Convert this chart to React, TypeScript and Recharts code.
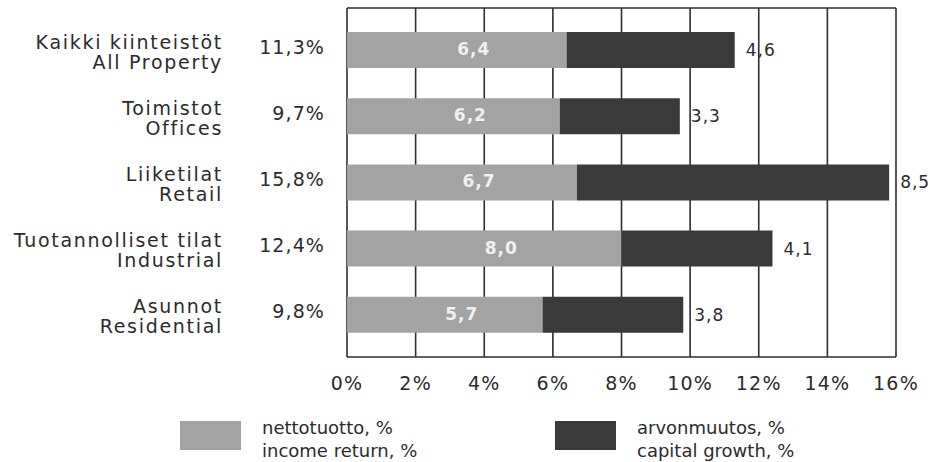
import React from "react"
import { Bar, BarChart, CartesianGrid, LabelList, XAxis, YAxis } from "recharts"

const categoriesFi = ["Kaikki kiinteistöt", "Toimistot", "Liiketilat", "Tuotannolliset tilat", "Asunnot"]
const categoriesEn = ["All Property", "Offices", "Retail", "Industrial", "Residential"]
const incomeReturn = [6.4, 6.2, 6.7, 8.0, 5.7]
const capitalGrowth = [4.6, 3.3, 8.5, 4.1, 3.8]
const totalReturn = [11.3, 9.7, 15.8, 12.4, 9.8]
const xTicks = [0, 2, 4, 6, 8, 10, 12, 14, 16]

const LIGHT = "#a3a3a3"
const DARK = "#3a3a3a"
const FONT = "'DejaVu Sans', sans-serif"

// the dark segment runs from the income value to the total return
const data = categoriesEn.map((en, i) => ({
  name: en,
  fi: categoriesFi[i],
  income: incomeReturn[i],
  growth: capitalGrowth[i],
  growthBar: +(totalReturn[i] - incomeReturn[i]).toFixed(2),
  total: totalReturn[i],
}))

const fmt = (v: number) => v.toFixed(1).replace(".", ",")

function CategoryTick(props: any) {
  const { y, index } = props
  const d = data[index]
  if (!d) return null
  return (
    <g fontFamily={FONT} fontSize={19} fill="#2b2b2b" letterSpacing={1.7}>
      <text x={223} y={y - 7} textAnchor="end" dominantBaseline="middle">
        {d.fi}
      </text>
      <text x={223} y={y + 13} textAnchor="end" dominantBaseline="middle">
        {d.name}
      </text>
      <text x={325} y={y - 2} textAnchor="end" dominantBaseline="middle" letterSpacing={1.1}>
        {fmt(d.total)}%
      </text>
    </g>
  )
}

// income labels sit a little right of the segment centre, as in the print
function IncomeLabel(props: any) {
  const { x, y, width, height, value } = props
  return (
    <text
      x={x + width / 2 + 17}
      y={y + height / 2}
      textAnchor="middle"
      dominantBaseline="middle"
      fill="#f0f0f0"
      fontSize={17}
      fontWeight={700}
      fontFamily={FONT}
      letterSpacing={1}
    >
      {fmt(Number(value))}
    </text>
  )
}

function LegendItem({ color, x, line1, line2 }: { color: string; x: number; line1: string; line2: string }) {
  return (
    <div style={{ position: "absolute", left: x, top: 420, display: "flex", fontFamily: FONT, fontSize: 18, color: "#2b2b2b" }}>
      <div style={{ width: 61, height: 29, background: color, marginTop: 1 }} />
      <div style={{ marginLeft: 21, lineHeight: "23px", marginTop: -4 }}>
        <div>{line1}</div>
        <div>{line2}</div>
      </div>
    </div>
  )
}

export default function App() {
  return (
    <div style={{ position: "absolute", left: 0, top: 0, width: 947, height: 462, background: "#fff" }}>
      <BarChart
        width={947}
        height={462}
        data={data}
        layout="vertical"
        margin={{ top: 8, right: 51, bottom: 65, left: 0 }}
        barSize={36}
      >
        <CartesianGrid
          stroke="#2e2e2e"
          strokeWidth={1.6}
          horizontalCoordinatesGenerator={({ offset }: any) => [offset.top, offset.top + offset.height]}
          verticalCoordinatesGenerator={({ offset }: any) =>
            xTicks.map((t) => offset.left + (t / xTicks[xTicks.length - 1]) * offset.width)
          }
        />
        <XAxis
          type="number"
          domain={[0, 16]}
          ticks={xTicks}
          interval={0}
          height={40}
          tickFormatter={(v: number) => `${v}%`}
          tickLine={false}
          tickMargin={14}
          axisLine={false}
          tick={{ fill: "#2b2b2b", fontSize: 19, fontFamily: FONT, letterSpacing: 1.2 } as any}
        />
        <YAxis
          type="category"
          dataKey="name"
          width={347}
          padding={{ top: 9, bottom: 9 }}
          axisLine={false}
          tickLine={false}
          tick={<CategoryTick />}
        />
        <Bar dataKey="income" stackId="a" fill={LIGHT} isAnimationActive={false}>
          <LabelList dataKey="income" content={<IncomeLabel />} />
        </Bar>
        <Bar dataKey="growthBar" stackId="a" fill={DARK} isAnimationActive={false}>
          <LabelList
            dataKey="growth"
            position="right"
            offset={11}
            formatter={(v: any) => fmt(Number(v))}
            fill="#2b2b2b"
            fontSize={17}
            fontFamily={FONT}
            letterSpacing={1}
          />
        </Bar>
      </BarChart>
      <LegendItem color={LIGHT} x={180} line1="nettotuotto, %" line2="income return, %" />
      <LegendItem color={DARK} x={555} line1="arvonmuutos, %" line2="capital growth, %" />
    </div>
  )
}
